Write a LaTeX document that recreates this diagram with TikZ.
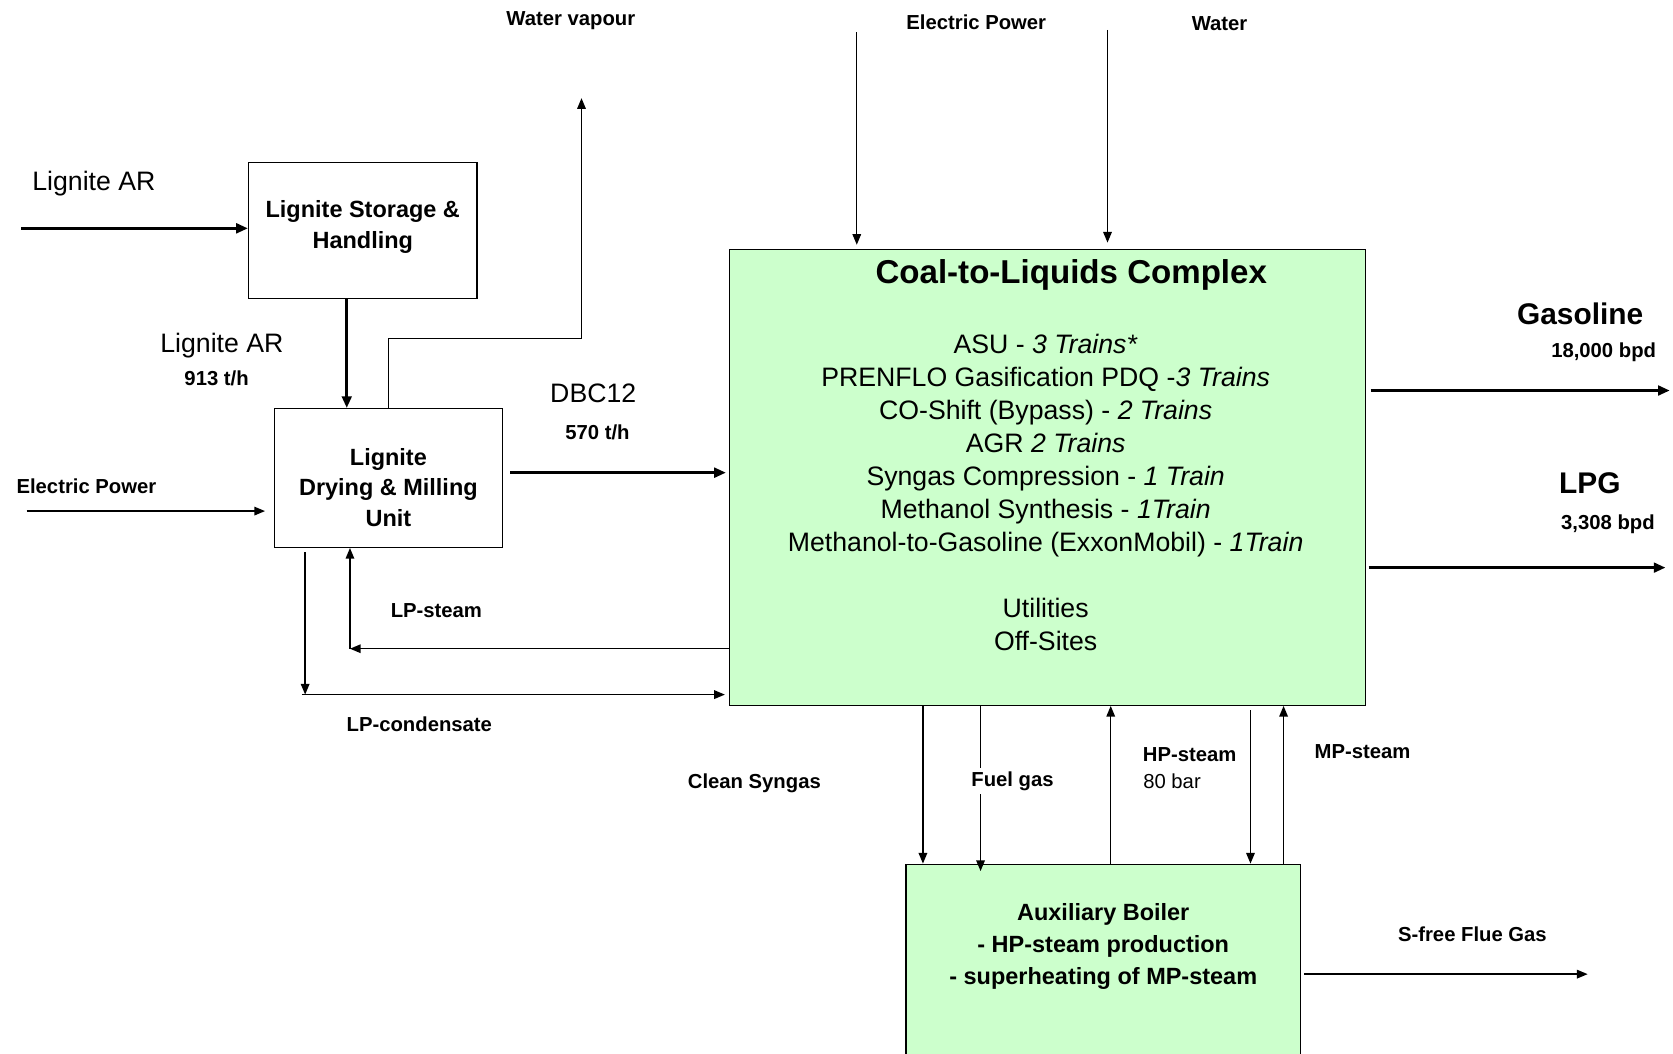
\documentclass[tikz,border=0pt]{standalone}
\usepackage{fontspec}
\setmainfont{Liberation Sans}
\usetikzlibrary{arrows.meta}

\definecolor{plantgreen}{HTML}{CCFFCC}

\tikzset{
  unit/.style={draw, line width=1.2pt},
  unittxt/.style={align=center, font=\bfseries\fontsize{22}{29}\selectfont},
  pipe/.style={line width=1.3pt},
  flow/.style={pipe, -{Triangle[length=10pt,width=8pt]}},
  mainflow/.style={line width=3pt, -{Triangle[length=11pt,width=9pt]}},
  lbl/.style={font=\bfseries\fontsize{19}{23}\selectfont},
  biglbl/.style={font=\fontsize{25}{30}\selectfont},
  prodlbl/.style={font=\bfseries\fontsize{28}{32}\selectfont},
}

\begin{document}
\begin{tikzpicture}[x=1pt,y=-1pt]
        \useasboundingbox (0,0) rectangle (1568,987);

        % process units
        \node[unit, minimum width=214pt, minimum height=128pt] (store) at (340,216) {};
        \node[unittxt] (storetxt) at (340,213) {Lignite Storage \&\\Handling};
        \node[unit, minimum width=214pt, minimum height=130pt] (dry) at (364,448) {};
        \node[unittxt] (drytxt) at (364,457) {Lignite\\Drying \& Milling\\Unit};
        \node[unit, fill=plantgreen, minimum width=596pt, minimum height=427pt] (ctl) at (982,447.5) {};
        \node[unit, fill=plantgreen, minimum width=370pt, minimum height=192pt] (aux) at (1034,906) {};

        \node[font=\bfseries\fontsize{31}{36}\selectfont] (ctltitle) at (1004,258) {Coal-to-Liquids Complex};
        \node[font=\fontsize{25}{31}\selectfont, align=center] (ctltxt) at (980,461.5)
        {ASU - \textit{3 Trains*}\\
         PRENFLO Gasification PDQ -\textit{3 Trains}\\
         CO-Shift (Bypass) - \textit{2 Trains}\\
         AGR \textit{2 Trains}\\
         Syngas Compression - \textit{1 Train}\\
         Methanol Synthesis - \textit{1Train}\\
         Methanol-to-Gasoline (ExxonMobil) - \textit{1Train}\\[31pt]
         Utilities\\
         Off-Sites};
        \node[font=\bfseries\fontsize{22}{30}\selectfont, align=center] (auxtxt) at (1034,887)
        {Auxiliary Boiler\\- HP-steam production\\- superheating of MP-steam};

        % feed side
        \coordinate (larin) at (20,214);
        \draw[mainflow] (larin) -- (larin -| store.west);
        \node[biglbl] (lar1) at (88,172) {Lignite AR};
        \draw[mainflow] ([xshift=-15pt]store.south) -- ([xshift=-15pt]store.south |- dry.north);
        \node[biglbl] (lar2) at (208,324) {Lignite AR};
        \node[lbl] (larrate) at (203,355) {913 t/h};

        \coordinate (vapturn) at (545,317);
        \coordinate (vap) at (545,92);
        \draw[flow] (dry.north) |- (vapturn) -- (vap);
        \node[lbl] (vaplbl) at (535,19) {Water vapour};

        \coordinate (epin) at (25,479);
        \draw[flow, shorten >=8pt] (epin) -- (epin -| dry.west);
        \node[lbl] (eplbl) at (81,456) {Electric Power};

        \coordinate (dbc) at (478,443);
        \draw[mainflow, shorten >=3pt] (dbc) -- (dbc -| ctl.west);
        \node[biglbl] (dbclbl) at (556,369) {DBC12};
        \node[lbl] (dbcrate) at (560,405) {570 t/h};

        % steam loop to the dryer
        \coordinate (lps) at (328,608);
        \draw[flow] (lps -| ctl.west) -- (lps);
        \draw[flow] (lps) -- (lps |- dry.south);
        \node[lbl] (lpslbl) at (409,572) {LP-steam};

        \coordinate (lpc) at (286,651);
        \draw[flow, shorten <=4pt] (lpc |- dry.south) -- (lpc);
        \draw[flow, shorten >=4pt] ([xshift=-3pt]lpc) -- (lpc -| ctl.west);
        \node[lbl] (lpclbl) at (393,679) {LP-condensate};

        % utilities from the top
        \coordinate (epctl) at (803,30);
        \draw[flow, shorten >=4pt] (epctl) -- (epctl |- ctl.north);
        \node[lbl] (eptop) at (915,21) {Electric Power};
        \coordinate (wat) at (1038,28);
        \draw[flow, shorten >=6pt] (wat) -- (wat |- ctl.north);
        \node[lbl] (watlbl) at (1143,22) {Water};

        % products
        \coordinate (gas) at (1565,366);
        \draw[mainflow, shorten <=4pt] (gas -| ctl.east) -- (gas);
        \node[prodlbl] (gaslbl) at (1481,294) {Gasoline};
        \node[lbl] (gasrate) at (1503,330) {18,000 bpd};
        \coordinate (lpg) at (1561,532);
        \draw[mainflow, shorten <=2pt] (lpg -| ctl.east) -- (lpg);
        \node[prodlbl] (lpglbl) at (1490,453) {LPG};
        \node[lbl] (lpgrate) at (1507,491) {3,308 bpd};

        % auxiliary boiler
        \coordinate (syn) at (865,700);
        \draw[flow] (syn |- ctl.south) -- (syn |- aux.north);
        \node[lbl] (synlbl) at (707,734) {Clean Syngas};

        \node[lbl] (fuel) at (949,732) {Fuel gas};
        \coordinate (fg) at (919,700);
        \draw[pipe] (fg |- ctl.south) -- (fg |- fuel.north);
        \draw[flow] (fg |- fuel.south) -- ([yshift=-7pt]fg |- aux.north);

        \coordinate (hp) at (1041,700);
        \draw[flow] (hp |- aux.north) -- (hp |- ctl.south);
        \node[lbl] (hplbl) at (1115,707) {HP-steam};
        \node[font=\fontsize{19}{23}\selectfont, anchor=west] (hpbar) at (1068,732) {80 bar};

        \coordinate (hpret) at (1172,700);
        \draw[flow, shorten <=4pt] (hpret |- ctl.south) -- (hpret |- aux.north);
        \coordinate (mp) at (1203,700);
        \draw[flow] (mp |- aux.north) -- (mp |- ctl.south);
        \node[lbl] (mplbl) at (1277,704) {MP-steam};

        \coordinate (flue) at (1488,913);
        \draw[flow, shorten <=3pt] (flue -| aux.east) -- (flue);
        \node[lbl] (fluelbl) at (1380,876) {S-free Flue Gas};
    \end{tikzpicture}
\end{document}
